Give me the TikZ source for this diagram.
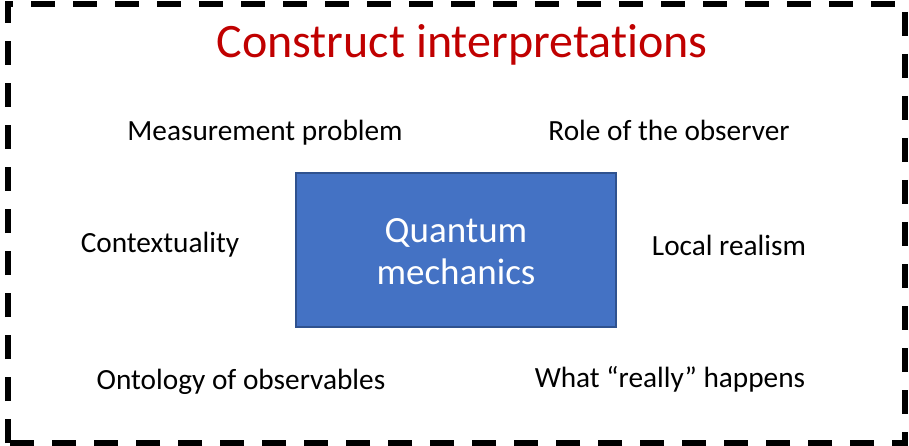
\documentclass[tikz,border=0pt]{standalone}
\usepackage{fontspec}
\setmainfont{Carlito}[Ligatures=NoCommon]
\definecolor{qblue}{HTML}{4472C4}
\definecolor{qedge}{HTML}{2F528F}
\definecolor{tred}{HTML}{C00000}
\begin{document}
\begin{tikzpicture}[x=1pt,y=-1pt,
  lbl/.style={font=\fontsize{29.3}{34}\selectfont, inner sep=0pt},
  frame/.style={draw=black, line width=6pt, dash pattern=on 24pt off 18pt}]
\useasboundingbox (0,0) rectangle (909,446);
\draw[frame] (8,443) -- (8,4) -- (905,4) -- (905,443) -- cycle;
\node[font=\fontsize{48}{56}\selectfont, text=tred, inner sep=0pt] (title) at (462,45) {Construct interpretations};
\node[draw=qedge, line width=1.5pt, fill=qblue, minimum width=320pt, minimum height=154pt, inner sep=0pt,
  text=white, align=center, font=\fontsize{37}{42}\selectfont] (qm) at (456,250) {};
\node[text=white, align=center, font=\fontsize{37}{42}\selectfont, inner sep=0pt] (qmt) at (456,252) {Quantum\\mechanics};
\node[lbl] (mp) at (265,133) {Measurement problem};
\node[lbl] (ro) at (669,130) {Role of the observer};
\node[lbl] (ctx) at (160,245) {Contextuality};
\node[lbl] (lr) at (729,245) {Local realism};
\node[lbl] (oo) at (241,382) {Ontology of observables};
\node[lbl] (wr) at (670,379) {What “really” happens};
\end{tikzpicture}
\end{document}
